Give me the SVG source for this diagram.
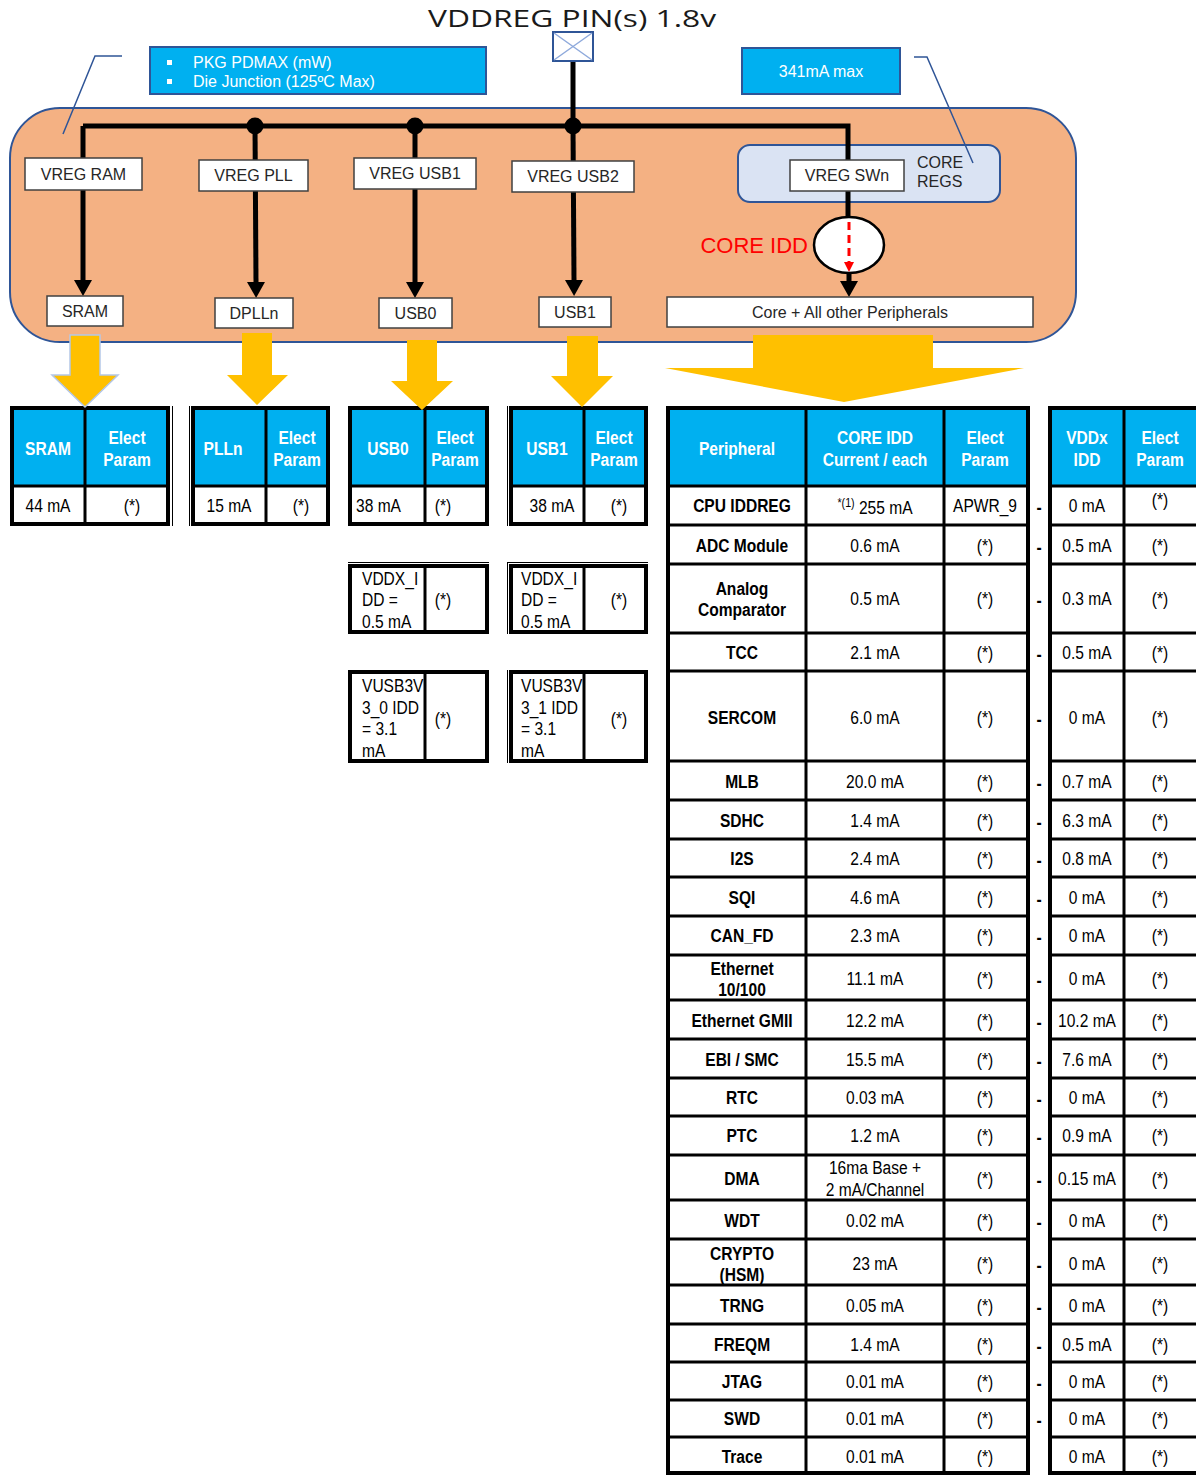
<svg xmlns="http://www.w3.org/2000/svg" width="1196" height="1475" viewBox="0 0 1196 1475">
<style>
.t{font-family:"Liberation Sans",Arial,sans-serif;font-size:16px;fill:#262626;text-anchor:middle}
.wt{font-family:"Liberation Sans",Arial,sans-serif;font-size:16px;fill:#fff}
.c{font-family:"Liberation Sans",Arial,sans-serif;font-size:19px;text-anchor:middle;fill:#000}
.b{font-weight:bold}
.w{fill:#fff}
.s{text-anchor:start}
.box{fill:#fff;stroke:#404040;stroke-width:1.5}
.blue{fill:#00B0F0;stroke:#2F5597;stroke-width:2}
.hdr{fill:#00B0F0}
.tb{fill:#fff;stroke:#000;stroke-width:4}
.g{fill:none;stroke:#000;stroke-width:3}
.thin{fill:none;stroke:#000;stroke-width:1}
.wire{fill:none;stroke:#000;stroke-width:5}
.yel{fill:#FFC000}
.call{fill:none;stroke:#2F5597;stroke-width:1.5}
</style>
<defs>
<marker id="ah" viewBox="0 0 16 18" refX="0" refY="9" markerWidth="16" markerHeight="18" markerUnits="userSpaceOnUse" orient="auto"><path d="M0,0 L16,9 L0,18 Z" fill="#000"/></marker>
<marker id="ahr" viewBox="0 0 10 10" refX="0" refY="5" markerWidth="10" markerHeight="10" markerUnits="userSpaceOnUse" orient="auto"><path d="M0,0 L10,5 L0,10 Z" fill="#f00"/></marker>
</defs>
<rect width="1196" height="1475" fill="#fff"/>

<g id="title"><text x="572" y="27" font-family="'Open Sans','DejaVu Sans',sans-serif" font-size="24" fill="#1a1a1a" text-anchor="middle" textLength="288" lengthAdjust="spacingAndGlyphs">VDDREG PIN(s) 1.8v</text></g>

<g id="chip"><rect x="10" y="108" width="1066" height="234" rx="50" fill="#F4B183" stroke="#2F5597" stroke-width="2"/></g>
<g id="core-regs"><rect x="738" y="145" width="262" height="57" rx="12" fill="#DAE3F3" stroke="#2F5597" stroke-width="2"/>
<text class="t s" x="917" y="168">CORE</text><text class="t s" x="917" y="187">REGS</text></g>

<g id="connectors">
<path class="wire" d="M573,61 V126"/>
<path class="wire" d="M83,126 H848 V220"/>
<path class="wire" d="M83,126 V280" marker-end="url(#ah)"/>
<path class="wire" d="M255,126 L256,282" marker-end="url(#ah)"/>
<path class="wire" d="M415,126 V282" marker-end="url(#ah)"/>
<path class="wire" d="M573,126 L574,280" marker-end="url(#ah)"/>
<path class="wire" d="M849,270 V281" marker-end="url(#ah)"/>
<circle cx="255" cy="126" r="8.5"/><circle cx="415" cy="126" r="8.5"/><circle cx="573" cy="126" r="8.5"/>
<polyline class="call" points="122,56 95,56 63,134"/>
<polyline class="call" points="914,57 927,57 973,163"/>
</g>

<g id="pin"><rect x="553" y="32" width="40" height="29" fill="#fff" stroke="#2F5597" stroke-width="2"/><path d="M554,33 L592,60 M592,33 L554,60" stroke="#8FAADC" stroke-width="1.5"/></g>
<g id="note-pkg"><rect class="blue" x="150" y="47" width="336" height="47"/><rect x="167" y="60" width="5" height="5" fill="#fff"/><rect x="167" y="79" width="5" height="5" fill="#fff"/>
<text class="wt" x="193" y="68">PKG PDMAX (mW)</text><text class="wt" x="193" y="87">Die Junction (125ºC Max)</text></g>
<g id="note-max"><rect class="blue" x="742" y="48" width="158" height="46"/><text class="wt" x="821" y="77" text-anchor="middle">341mA max</text></g>

<g id="vreg-ram"><rect class="box" x="25" y="158" width="117" height="32"/><text class="t" x="83.5" y="180">VREG RAM</text></g>
<g id="vreg-pll"><rect class="box" x="199" y="160" width="109" height="31"/><text class="t" x="253.5" y="181">VREG PLL</text></g>
<g id="vreg-usb1"><rect class="box" x="354" y="158" width="122" height="31"/><text class="t" x="415" y="179">VREG USB1</text></g>
<g id="vreg-usb2"><rect class="box" x="512" y="161" width="122" height="31"/><text class="t" x="573" y="182">VREG USB2</text></g>
<g id="vreg-swn"><rect class="box" x="790" y="160" width="114" height="31"/><text class="t" x="847" y="181">VREG SWn</text></g>

<g id="core-idd"><ellipse cx="849" cy="245" rx="35" ry="28" fill="#fff" stroke="#000" stroke-width="2.5"/>
<path d="M849,222 V262" stroke="#f00" stroke-width="3" stroke-dasharray="8 5" fill="none" marker-end="url(#ahr)"/>
<text x="808" y="253" font-family="'Liberation Sans',Arial,sans-serif" font-size="22" fill="#f00" text-anchor="end">CORE IDD</text></g>

<g id="sram"><rect class="box" x="47" y="296" width="76" height="30"/><text class="t" x="85" y="317">SRAM</text></g>
<g id="dplln"><rect class="box" x="215" y="298" width="78" height="30"/><text class="t" x="254" y="319">DPLLn</text></g>
<g id="usb0"><rect class="box" x="379" y="298" width="73" height="30"/><text class="t" x="415.5" y="319">USB0</text></g>
<g id="usb1"><rect class="box" x="539" y="297" width="72" height="30"/><text class="t" x="575" y="318">USB1</text></g>
<g id="core-periph"><rect class="box" x="667" y="297" width="366" height="30"/><text class="t" x="850" y="318">Core + All other Peripherals</text></g>

<!-- small tables -->
<g id="tbl-sram"><rect class="tb" x="12" y="408" width="156" height="116"/><rect class="hdr" x="14" y="410" width="152" height="76"/>
<path class="g" d="M12,486 H168 M85,408 V524"/><path class="thin" d="M172.5,406 V526"/>
<text class="c b w" transform="translate(48 455) scale(.82 1)">SRAM</text>
<text class="c b w" transform="translate(127 444) scale(.82 1)">Elect</text><text class="c b w" transform="translate(127 466) scale(.82 1)">Param</text>
<text class="c" transform="translate(48 512) scale(.82 1)">44 mA</text><text class="c" transform="translate(132 512) scale(.82 1)">(*)</text></g>

<g id="tbl-pll"><rect class="tb" x="193" y="408" width="135" height="116"/><rect class="hdr" x="195" y="410" width="131" height="76"/>
<path class="g" d="M193,486 H328 M266,408 V524"/><path class="thin" d="M189.5,406 V526"/>
<text class="c b w" transform="translate(223 455) scale(.82 1)">PLLn</text>
<text class="c b w" transform="translate(297 444) scale(.82 1)">Elect</text><text class="c b w" transform="translate(297 466) scale(.82 1)">Param</text>
<text class="c" transform="translate(229 512) scale(.82 1)">15 mA</text><text class="c" transform="translate(301 512) scale(.82 1)">(*)</text></g>

<g id="tbl-usb0"><rect class="tb" x="350" y="408" width="137" height="116"/><rect class="hdr" x="352" y="410" width="133" height="76"/>
<path class="g" d="M350,486 H487 M425,408 V524"/>
<text class="c b w" transform="translate(388 455) scale(.82 1)">USB0</text>
<text class="c b w" transform="translate(455 444) scale(.82 1)">Elect</text><text class="c b w" transform="translate(455 466) scale(.82 1)">Param</text>
<text class="c s" transform="translate(356 512) scale(.82 1)">38 mA</text><text class="c" transform="translate(443 512) scale(.82 1)">(*)</text></g>

<g id="tbl-usb1"><rect class="tb" x="511" y="408" width="135" height="116"/><rect class="hdr" x="513" y="410" width="131" height="76"/>
<path class="g" d="M511,486 H646 M584,408 V524"/><path class="thin" d="M507.5,406 V526"/>
<text class="c b w" transform="translate(547 455) scale(.82 1)">USB1</text>
<text class="c b w" transform="translate(614 444) scale(.82 1)">Elect</text><text class="c b w" transform="translate(614 466) scale(.82 1)">Param</text>
<text class="c" transform="translate(552 512) scale(.82 1)">38 mA</text><text class="c" transform="translate(619 512) scale(.82 1)">(*)</text></g>

<g id="tbl-usb0-vddx"><rect class="tb" x="350" y="566" width="137" height="66"/><path class="thin" d="M348,562.5 H489"/>
<path class="g" d="M425,566 V632"/>
<text class="c s" transform="translate(362 585) scale(.82 1)">VDDX_I</text><text class="c s" transform="translate(362 606) scale(.82 1)">DD =</text><text class="c s" transform="translate(362 628) scale(.82 1)">0.5 mA</text>
<text class="c" transform="translate(443 606) scale(.82 1)">(*)</text></g>

<g id="tbl-usb1-vddx"><rect class="tb" x="511" y="566" width="135" height="66"/><path class="thin" d="M507,562.5 H648 M507.5,562 V634"/>
<path class="g" d="M584,566 V632"/>
<text class="c s" transform="translate(521 585) scale(.82 1)">VDDX_I</text><text class="c s" transform="translate(521 606) scale(.82 1)">DD =</text><text class="c s" transform="translate(521 628) scale(.82 1)">0.5 mA</text>
<text class="c" transform="translate(619 606) scale(.82 1)">(*)</text></g>

<g id="tbl-usb0-vusb"><rect class="tb" x="350" y="672" width="137" height="89"/>
<path class="g" d="M425,672 V761"/>
<text class="c s" transform="translate(362 692) scale(.82 1)">VUSB3V</text><text class="c s" transform="translate(362 714) scale(.82 1)">3_0 IDD</text><text class="c s" transform="translate(362 735) scale(.82 1)">= 3.1</text><text class="c s" transform="translate(362 757) scale(.82 1)">mA</text>
<text class="c" transform="translate(443 725) scale(.82 1)">(*)</text></g>

<g id="tbl-usb1-vusb"><rect class="tb" x="511" y="672" width="135" height="89"/><path class="thin" d="M507.5,670 V763"/>
<path class="g" d="M584,672 V761"/>
<text class="c s" transform="translate(521 692) scale(.82 1)">VUSB3V</text><text class="c s" transform="translate(521 714) scale(.82 1)">3_1 IDD</text><text class="c s" transform="translate(521 735) scale(.82 1)">= 3.1</text><text class="c s" transform="translate(521 757) scale(.82 1)">mA</text>
<text class="c" transform="translate(619 725) scale(.82 1)">(*)</text></g>

<!-- main peripheral table -->
<g id="tbl-core">
<rect class="tb" x="668" y="408" width="360" height="1065"/><rect class="hdr" x="670" y="410" width="356" height="76"/>
<path class="g" d="M806,408 V1473 M944,408 V1473 M668,486 H1028 M668,525 H1028 M668,564 H1028 M668,633 H1028 M668,671 H1028 M668,761 H1028 M668,800 H1028 M668,839 H1028 M668,877 H1028 M668,916 H1028 M668,955 H1028 M668,1000 H1028 M668,1039 H1028 M668,1078 H1028 M668,1116 H1028 M668,1155 H1028 M668,1200 H1028 M668,1239 H1028 M668,1285 H1028 M668,1324 H1028 M668,1362 H1028 M668,1400 H1028 M668,1437 H1028"/>
<text class="c b w" transform="translate(737 455) scale(.82 1)">Peripheral</text>
<text class="c b w" transform="translate(875 444) scale(.82 1)">CORE IDD</text><text class="c b w" transform="translate(875 466) scale(.82 1)">Current / each</text>
<text class="c b w" transform="translate(985 444) scale(.82 1)">Elect</text><text class="c b w" transform="translate(985 466) scale(.82 1)">Param</text>

<text class="c b" transform="translate(742 512) scale(.82 1)">CPU IDDREG</text>
<text class="c" transform="translate(875 514) scale(.82 1)"><tspan font-size="13" dy="-7">*(1)</tspan><tspan dy="7"> 255 mA</tspan></text>
<text class="c" transform="translate(985 512) scale(.82 1)">APWR_9</text>

<text class="c b" transform="translate(742 552) scale(.82 1)">ADC Module</text><text class="c" transform="translate(875 552) scale(.82 1)">0.6 mA</text><text class="c" transform="translate(985 552) scale(.82 1)">(*)</text>
<text class="c b" transform="translate(742 595) scale(.82 1)">Analog</text><text class="c b" transform="translate(742 616) scale(.82 1)">Comparator</text><text class="c" transform="translate(875 605) scale(.82 1)">0.5 mA</text><text class="c" transform="translate(985 605) scale(.82 1)">(*)</text>
<text class="c b" transform="translate(742 659) scale(.82 1)">TCC</text><text class="c" transform="translate(875 659) scale(.82 1)">2.1 mA</text><text class="c" transform="translate(985 659) scale(.82 1)">(*)</text>
<text class="c b" transform="translate(742 724) scale(.82 1)">SERCOM</text><text class="c" transform="translate(875 724) scale(.82 1)">6.0 mA</text><text class="c" transform="translate(985 724) scale(.82 1)">(*)</text>
<text class="c b" transform="translate(742 788) scale(.82 1)">MLB</text><text class="c" transform="translate(875 788) scale(.82 1)">20.0 mA</text><text class="c" transform="translate(985 788) scale(.82 1)">(*)</text>
<text class="c b" transform="translate(742 827) scale(.82 1)">SDHC</text><text class="c" transform="translate(875 827) scale(.82 1)">1.4 mA</text><text class="c" transform="translate(985 827) scale(.82 1)">(*)</text>
<text class="c b" transform="translate(742 865) scale(.82 1)">I2S</text><text class="c" transform="translate(875 865) scale(.82 1)">2.4 mA</text><text class="c" transform="translate(985 865) scale(.82 1)">(*)</text>
<text class="c b" transform="translate(742 904) scale(.82 1)">SQI</text><text class="c" transform="translate(875 904) scale(.82 1)">4.6 mA</text><text class="c" transform="translate(985 904) scale(.82 1)">(*)</text>
<text class="c b" transform="translate(742 942) scale(.82 1)">CAN_FD</text><text class="c" transform="translate(875 942) scale(.82 1)">2.3 mA</text><text class="c" transform="translate(985 942) scale(.82 1)">(*)</text>
<text class="c b" transform="translate(742 975) scale(.82 1)">Ethernet</text><text class="c b" transform="translate(742 996) scale(.82 1)">10/100</text><text class="c" transform="translate(875 985) scale(.82 1)">11.1 mA</text><text class="c" transform="translate(985 985) scale(.82 1)">(*)</text>
<text class="c b" transform="translate(742 1027) scale(.82 1)">Ethernet GMII</text><text class="c" transform="translate(875 1027) scale(.82 1)">12.2 mA</text><text class="c" transform="translate(985 1027) scale(.82 1)">(*)</text>
<text class="c b" transform="translate(742 1066) scale(.82 1)">EBI / SMC</text><text class="c" transform="translate(875 1066) scale(.82 1)">15.5 mA</text><text class="c" transform="translate(985 1066) scale(.82 1)">(*)</text>
<text class="c b" transform="translate(742 1104) scale(.82 1)">RTC</text><text class="c" transform="translate(875 1104) scale(.82 1)">0.03 mA</text><text class="c" transform="translate(985 1104) scale(.82 1)">(*)</text>
<text class="c b" transform="translate(742 1142) scale(.82 1)">PTC</text><text class="c" transform="translate(875 1142) scale(.82 1)">1.2 mA</text><text class="c" transform="translate(985 1142) scale(.82 1)">(*)</text>
<text class="c b" transform="translate(742 1185) scale(.82 1)">DMA</text><text class="c" transform="translate(875 1174) scale(.82 1)">16ma Base +</text><text class="c" transform="translate(875 1196) scale(.82 1)">2 mA/Channel</text><text class="c" transform="translate(985 1185) scale(.82 1)">(*)</text>
<text class="c b" transform="translate(742 1227) scale(.82 1)">WDT</text><text class="c" transform="translate(875 1227) scale(.82 1)">0.02 mA</text><text class="c" transform="translate(985 1227) scale(.82 1)">(*)</text>
<text class="c b" transform="translate(742 1260) scale(.82 1)">CRYPTO</text><text class="c b" transform="translate(742 1281) scale(.82 1)">(HSM)</text><text class="c" transform="translate(875 1270) scale(.82 1)">23 mA</text><text class="c" transform="translate(985 1270) scale(.82 1)">(*)</text>
<text class="c b" transform="translate(742 1312) scale(.82 1)">TRNG</text><text class="c" transform="translate(875 1312) scale(.82 1)">0.05 mA</text><text class="c" transform="translate(985 1312) scale(.82 1)">(*)</text>
<text class="c b" transform="translate(742 1351) scale(.82 1)">FREQM</text><text class="c" transform="translate(875 1351) scale(.82 1)">1.4 mA</text><text class="c" transform="translate(985 1351) scale(.82 1)">(*)</text>
<text class="c b" transform="translate(742 1388) scale(.82 1)">JTAG</text><text class="c" transform="translate(875 1388) scale(.82 1)">0.01 mA</text><text class="c" transform="translate(985 1388) scale(.82 1)">(*)</text>
<text class="c b" transform="translate(742 1425) scale(.82 1)">SWD</text><text class="c" transform="translate(875 1425) scale(.82 1)">0.01 mA</text><text class="c" transform="translate(985 1425) scale(.82 1)">(*)</text>
<text class="c b" transform="translate(742 1463) scale(.82 1)">Trace</text><text class="c" transform="translate(875 1463) scale(.82 1)">0.01 mA</text><text class="c" transform="translate(985 1463) scale(.82 1)">(*)</text>
</g>

<g id="dashes">
<text class="c b" transform="translate(1039 514) scale(.82 1)">-</text>
<text class="c b" transform="translate(1039 554) scale(.82 1)">-</text>
<text class="c b" transform="translate(1039 607) scale(.82 1)">-</text>
<text class="c b" transform="translate(1039 661) scale(.82 1)">-</text>
<text class="c b" transform="translate(1039 726) scale(.82 1)">-</text>
<text class="c b" transform="translate(1039 790) scale(.82 1)">-</text>
<text class="c b" transform="translate(1039 829) scale(.82 1)">-</text>
<text class="c b" transform="translate(1039 867) scale(.82 1)">-</text>
<text class="c b" transform="translate(1039 906) scale(.82 1)">-</text>
<text class="c b" transform="translate(1039 944) scale(.82 1)">-</text>
<text class="c b" transform="translate(1039 987) scale(.82 1)">-</text>
<text class="c b" transform="translate(1039 1029) scale(.82 1)">-</text>
<text class="c b" transform="translate(1039 1068) scale(.82 1)">-</text>
<text class="c b" transform="translate(1039 1106) scale(.82 1)">-</text>
<text class="c b" transform="translate(1039 1144) scale(.82 1)">-</text>
<text class="c b" transform="translate(1039 1187) scale(.82 1)">-</text>
<text class="c b" transform="translate(1039 1229) scale(.82 1)">-</text>
<text class="c b" transform="translate(1039 1272) scale(.82 1)">-</text>
<text class="c b" transform="translate(1039 1314) scale(.82 1)">-</text>
<text class="c b" transform="translate(1039 1353) scale(.82 1)">-</text>
<text class="c b" transform="translate(1039 1390) scale(.82 1)">-</text>
<text class="c b" transform="translate(1039 1427) scale(.82 1)">-</text>
</g>

<g id="tbl-vddx">
<rect class="tb" x="1050" y="408" width="200" height="1065"/><rect class="hdr" x="1052" y="410" width="150" height="76"/>
<path class="g" d="M1124,408 V1473 M1050,486 H1196 M1050,525 H1196 M1050,564 H1196 M1050,633 H1196 M1050,671 H1196 M1050,761 H1196 M1050,800 H1196 M1050,839 H1196 M1050,877 H1196 M1050,916 H1196 M1050,955 H1196 M1050,1000 H1196 M1050,1039 H1196 M1050,1078 H1196 M1050,1116 H1196 M1050,1155 H1196 M1050,1200 H1196 M1050,1239 H1196 M1050,1285 H1196 M1050,1324 H1196 M1050,1362 H1196 M1050,1400 H1196 M1050,1437 H1196"/>
<text class="c b w" transform="translate(1087 444) scale(.82 1)">VDDx</text><text class="c b w" transform="translate(1087 466) scale(.82 1)">IDD</text>
<text class="c b w" transform="translate(1160 444) scale(.82 1)">Elect</text><text class="c b w" transform="translate(1160 466) scale(.82 1)">Param</text>
<text class="c" transform="translate(1087 512) scale(.82 1)">0 mA</text><text class="c" transform="translate(1160 506) scale(.82 1)">(*)</text>
<text class="c" transform="translate(1087 552) scale(.82 1)">0.5 mA</text><text class="c" transform="translate(1160 552) scale(.82 1)">(*)</text>
<text class="c" transform="translate(1087 605) scale(.82 1)">0.3 mA</text><text class="c" transform="translate(1160 605) scale(.82 1)">(*)</text>
<text class="c" transform="translate(1087 659) scale(.82 1)">0.5 mA</text><text class="c" transform="translate(1160 659) scale(.82 1)">(*)</text>
<text class="c" transform="translate(1087 724) scale(.82 1)">0 mA</text><text class="c" transform="translate(1160 724) scale(.82 1)">(*)</text>
<text class="c" transform="translate(1087 788) scale(.82 1)">0.7 mA</text><text class="c" transform="translate(1160 788) scale(.82 1)">(*)</text>
<text class="c" transform="translate(1087 827) scale(.82 1)">6.3 mA</text><text class="c" transform="translate(1160 827) scale(.82 1)">(*)</text>
<text class="c" transform="translate(1087 865) scale(.82 1)">0.8 mA</text><text class="c" transform="translate(1160 865) scale(.82 1)">(*)</text>
<text class="c" transform="translate(1087 904) scale(.82 1)">0 mA</text><text class="c" transform="translate(1160 904) scale(.82 1)">(*)</text>
<text class="c" transform="translate(1087 942) scale(.82 1)">0 mA</text><text class="c" transform="translate(1160 942) scale(.82 1)">(*)</text>
<text class="c" transform="translate(1087 985) scale(.82 1)">0 mA</text><text class="c" transform="translate(1160 985) scale(.82 1)">(*)</text>
<text class="c" transform="translate(1087 1027) scale(.82 1)">10.2 mA</text><text class="c" transform="translate(1160 1027) scale(.82 1)">(*)</text>
<text class="c" transform="translate(1087 1066) scale(.82 1)">7.6 mA</text><text class="c" transform="translate(1160 1066) scale(.82 1)">(*)</text>
<text class="c" transform="translate(1087 1104) scale(.82 1)">0 mA</text><text class="c" transform="translate(1160 1104) scale(.82 1)">(*)</text>
<text class="c" transform="translate(1087 1142) scale(.82 1)">0.9 mA</text><text class="c" transform="translate(1160 1142) scale(.82 1)">(*)</text>
<text class="c" transform="translate(1087 1185) scale(.82 1)">0.15 mA</text><text class="c" transform="translate(1160 1185) scale(.82 1)">(*)</text>
<text class="c" transform="translate(1087 1227) scale(.82 1)">0 mA</text><text class="c" transform="translate(1160 1227) scale(.82 1)">(*)</text>
<text class="c" transform="translate(1087 1270) scale(.82 1)">0 mA</text><text class="c" transform="translate(1160 1270) scale(.82 1)">(*)</text>
<text class="c" transform="translate(1087 1312) scale(.82 1)">0 mA</text><text class="c" transform="translate(1160 1312) scale(.82 1)">(*)</text>
<text class="c" transform="translate(1087 1351) scale(.82 1)">0.5 mA</text><text class="c" transform="translate(1160 1351) scale(.82 1)">(*)</text>
<text class="c" transform="translate(1087 1388) scale(.82 1)">0 mA</text><text class="c" transform="translate(1160 1388) scale(.82 1)">(*)</text>
<text class="c" transform="translate(1087 1425) scale(.82 1)">0 mA</text><text class="c" transform="translate(1160 1425) scale(.82 1)">(*)</text>
<text class="c" transform="translate(1087 1463) scale(.82 1)">0 mA</text><text class="c" transform="translate(1160 1463) scale(.82 1)">(*)</text>
</g>

<g id="flow-arrows">
<polygon class="yel" points="70,335 100,335 100,375 118,375 85,407 52,375 70,375" stroke="#B4C7E7" stroke-width="1.5"/>
<polygon class="yel" points="242,333 272,333 272,375 288,375 257,405 227,375 242,375"/>
<polygon class="yel" points="407,340 437,340 437,381 453,381 422,410 391,381 407,381"/>
<polygon class="yel" points="567,336 598,336 598,376 613,376 582,407 551,376 567,376"/>
<polygon class="yel" points="753,335 933,335 933,368 1024,368 844,402 665,368 753,368"/>
</g>
</svg>
